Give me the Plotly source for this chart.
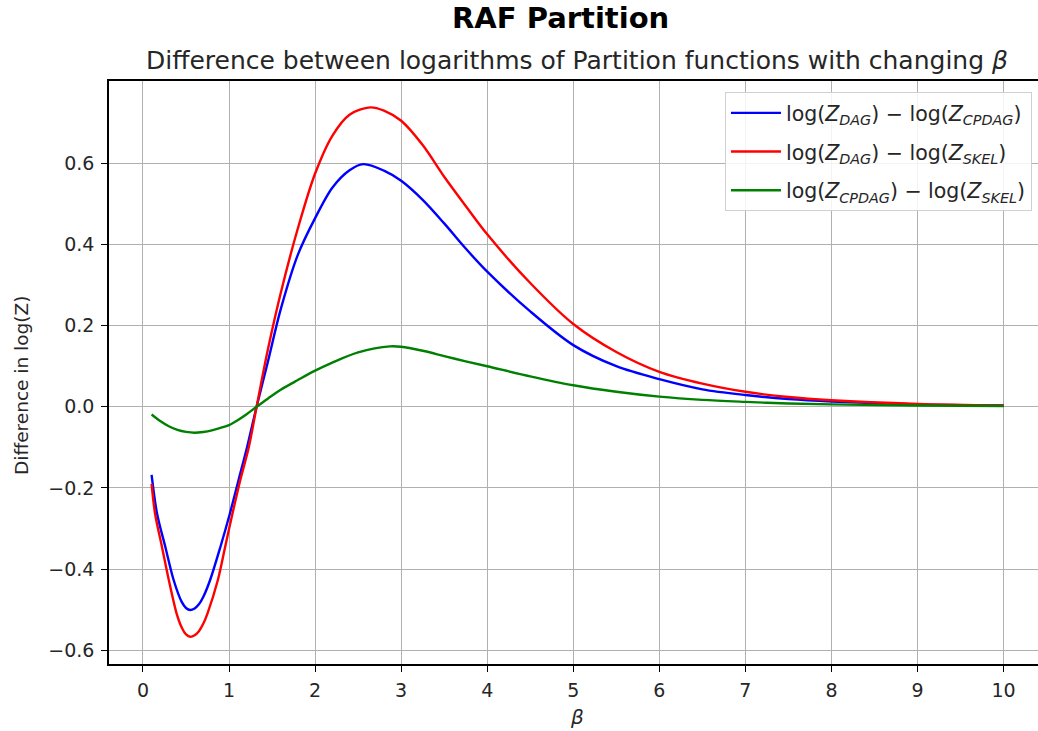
import plotly.graph_objects as go

# beta grid and log-partition differences for each comparison
beta_dag_cpdag = [0.1, 0.163, 0.259, 0.356, 0.45, 0.5, 0.549, 0.6, 0.65, 0.7, 0.78, 0.9, 1.01,
                  1.11, 1.21, 1.32, 1.45, 1.6, 1.8, 2.0, 2.2, 2.4, 2.56, 2.8, 3.0, 3.25, 3.5,
                  3.75, 4.0, 4.5, 5.0, 5.5, 6.0, 6.5, 7.0, 7.5, 8.0, 9.0, 10.0]
diff_dag_cpdag = [-0.168, -0.263, -0.345, -0.427, -0.481, -0.496, -0.501, -0.497, -0.487,
                  -0.469, -0.427, -0.345, -0.263, -0.181, -0.099, 0.0, 0.11, 0.24, 0.375,
                  0.465, 0.54, 0.583, 0.598, 0.582, 0.557, 0.51, 0.452, 0.39, 0.333, 0.235,
                  0.152, 0.10, 0.068, 0.043, 0.029, 0.019, 0.013, 0.006, 0.003]

beta_dag_skel = [0.1, 0.14, 0.22, 0.30, 0.39, 0.45, 0.5, 0.55, 0.6, 0.65, 0.7, 0.75, 0.87,
                 0.955, 1.04, 1.13, 1.23, 1.32, 1.45, 1.6, 1.8, 2.0, 2.2, 2.4, 2.64, 2.8, 3.0,
                 3.25, 3.5, 3.75, 4.0, 4.5, 5.0, 5.5, 6.0, 6.5, 7.0, 7.5, 8.0, 9.0, 10.0]
diff_dag_skel = [-0.19, -0.263, -0.345, -0.427, -0.509, -0.544, -0.561, -0.567, -0.563,
                 -0.553, -0.535, -0.509, -0.427, -0.345, -0.263, -0.181, -0.099, 0.0, 0.14,
                 0.28, 0.44, 0.575, 0.668, 0.72, 0.738, 0.73, 0.705, 0.645, 0.567, 0.495,
                 0.425, 0.305, 0.204, 0.135, 0.086, 0.057, 0.037, 0.024, 0.016, 0.007, 0.003]

beta_cpdag_skel = [0.1, 0.2, 0.3, 0.4, 0.5, 0.6, 0.7, 0.8, 0.9, 1.0, 1.1, 1.2, 1.32, 1.45,
                   1.6, 1.8, 2.0, 2.2, 2.5, 2.87, 3.0, 3.25, 3.5, 3.75, 4.0, 4.5, 5.0, 5.5,
                   6.0, 6.5, 7.0, 7.5, 8.0, 9.0, 10.0]
diff_cpdag_skel = [-0.019, -0.035, -0.048, -0.057, -0.062, -0.064, -0.062, -0.058, -0.052,
                   -0.045, -0.033, -0.019, 0.0, 0.02, 0.042, 0.066, 0.089, 0.109, 0.134,
                   0.149, 0.148, 0.138, 0.125, 0.112, 0.100, 0.075, 0.053, 0.037, 0.025,
                   0.017, 0.012, 0.008, 0.006, 0.003, 0.002]

x_ticks = [0, 1, 2, 3, 4, 5, 6, 7, 8, 9, 10]
y_ticks = [-0.6, -0.4, -0.2, 0.0, 0.2, 0.4, 0.6]
y_tick_text = ["\u22120.6", "\u22120.4", "\u22120.2", "0.0", "0.2", "0.4", "0.6"]

FONT = "DejaVu Sans"
TEXT = "#262626"

series = [
    (beta_dag_cpdag, diff_dag_cpdag, "blue",
     "log(<i>Z</i><sub><i>DAG</i></sub>) \u2212 log(<i>Z</i><sub><i>CPDAG</i></sub>)"),
    (beta_dag_skel, diff_dag_skel, "red",
     "log(<i>Z</i><sub><i>DAG</i></sub>) \u2212 log(<i>Z</i><sub><i>SKEL</i></sub>)"),
    (beta_cpdag_skel, diff_cpdag_skel, "green",
     "log(<i>Z</i><sub><i>CPDAG</i></sub>) \u2212 log(<i>Z</i><sub><i>SKEL</i></sub>)"),
]

fig = go.Figure()
for i, (xs, ys, color, name) in enumerate(series):
    fig.add_trace(go.Scatter(
        x=xs, y=ys, mode="lines", name=name,
        line=dict(color=color, width=2.4, shape="spline", smoothing=0.9),
        legendgroup=f"g{i}",
    ))

axis_common = dict(
    showgrid=True, gridcolor="#b0b0b0", gridwidth=1.3,
    showline=True, linecolor="black", linewidth=1.5,
    ticks="outside", ticklen=6, tickwidth=1.3, tickcolor="black",
    tickfont=dict(family=FONT, size=19, color=TEXT),
    zeroline=False,
)

fig.update_layout(
    width=1038, height=731,
    margin=dict(l=109, r=0, t=81, b=67),
    plot_bgcolor="white", paper_bgcolor="white",
    font=dict(family=FONT, color="black"),
    showlegend=True,
    legend=dict(
        x=0.9935, y=0.981, xanchor="right", yanchor="top",
        bgcolor="rgba(255,255,255,0.85)", bordercolor="#d0d0d0", borderwidth=1,
        font=dict(family=FONT, size=20.5, color=TEXT),
        tracegroupgap=9, traceorder="grouped", itemwidth=50,
    ),
    xaxis=dict(range=[-0.395, 10.40], tickvals=x_ticks, mirror=True,
               ticklabelstandoff=2, **axis_common),
    yaxis=dict(range=[-0.634, 0.803], tickvals=y_ticks, ticktext=y_tick_text,
               ticklabelstandoff=3, **axis_common),
    annotations=[
        dict(text="<b>RAF Partition</b>", x=0.4865, y=1.108, xref="paper", yref="paper",
             xanchor="center", yanchor="middle", showarrow=False,
             font=dict(family=FONT, size=29, color="black")),
        dict(text="Difference between logarithms of Partition functions with changing <i>\u03b2</i>",
             x=0.5043, y=1.036, xref="paper", yref="paper",
             xanchor="center", yanchor="middle", showarrow=False,
             font=dict(family=FONT, size=25, color=TEXT)),
        dict(text="Difference in log(Z)", x=-0.0937, y=0.4786, xref="paper", yref="paper",
             xanchor="center", yanchor="middle", textangle=-90, showarrow=False,
             font=dict(family=FONT, size=18.5, color=TEXT)),
        dict(text="<i>\u03b2</i>", x=0.5043, y=-0.0909, xref="paper", yref="paper",
             xanchor="center", yanchor="middle", showarrow=False,
             font=dict(family=FONT, size=20, color=TEXT)),
    ],
)

fig.write_html("out.html")
